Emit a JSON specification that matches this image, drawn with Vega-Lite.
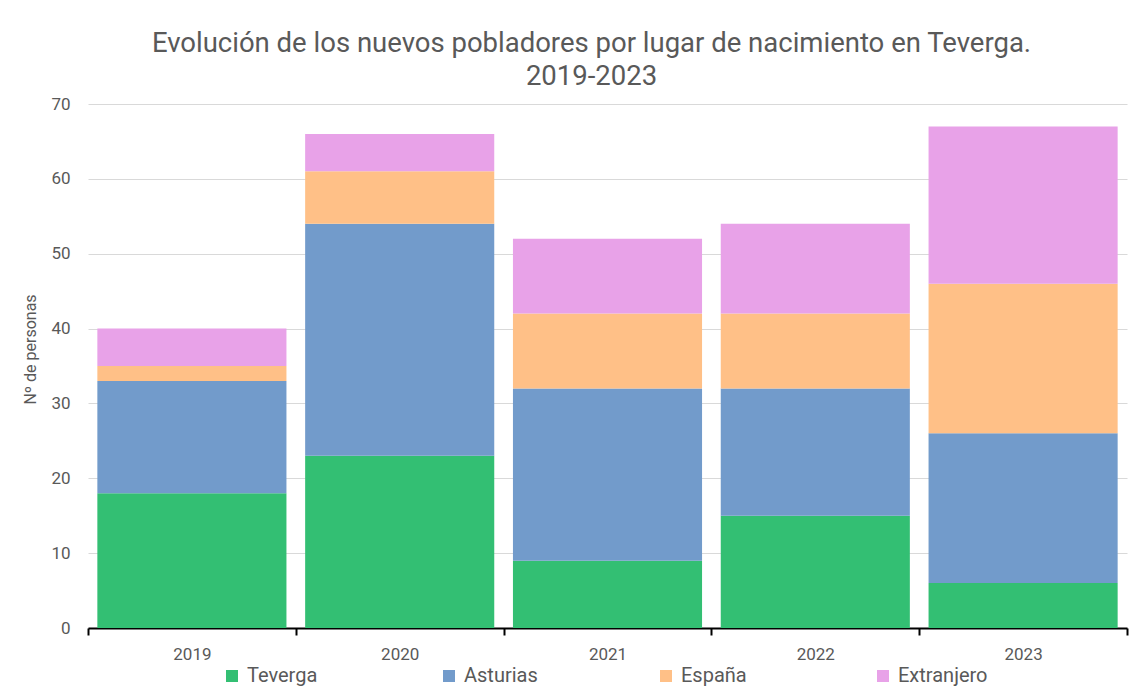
{
  "$schema": "https://vega.github.io/schema/vega-lite/v6.json",
  "width": 1039,
  "height": 524,
  "autosize": {"type": "none"},
  "padding": {"left": 88, "top": 104, "right": 5, "bottom": 60},
  "background": "white",
  "config": {"view": {"stroke": null}, "font": "Roboto"},
  "title": {
    "text": ["Evolución de los nuevos pobladores por lugar de nacimiento en Teverga.", "2019-2023"],
    "fontSize": 27.5,
    "fontWeight": "normal",
    "color": "#595959",
    "offset": 5,
    "dx": -16,
    "lineHeight": 33
  },
  "data": {
    "values": [
      {"anio": "2019", "lugar": "Teverga", "personas": 18},
      {"anio": "2019", "lugar": "Asturias", "personas": 15},
      {"anio": "2019", "lugar": "España", "personas": 2},
      {"anio": "2019", "lugar": "Extranjero", "personas": 5},
      {"anio": "2020", "lugar": "Teverga", "personas": 23},
      {"anio": "2020", "lugar": "Asturias", "personas": 31},
      {"anio": "2020", "lugar": "España", "personas": 7},
      {"anio": "2020", "lugar": "Extranjero", "personas": 5},
      {"anio": "2021", "lugar": "Teverga", "personas": 9},
      {"anio": "2021", "lugar": "Asturias", "personas": 23},
      {"anio": "2021", "lugar": "España", "personas": 10},
      {"anio": "2021", "lugar": "Extranjero", "personas": 10},
      {"anio": "2022", "lugar": "Teverga", "personas": 15},
      {"anio": "2022", "lugar": "Asturias", "personas": 17},
      {"anio": "2022", "lugar": "España", "personas": 10},
      {"anio": "2022", "lugar": "Extranjero", "personas": 12},
      {"anio": "2023", "lugar": "Teverga", "personas": 6},
      {"anio": "2023", "lugar": "Asturias", "personas": 20},
      {"anio": "2023", "lugar": "España", "personas": 20},
      {"anio": "2023", "lugar": "Extranjero", "personas": 21}
    ]
  },
  "transform": [
    {"calculate": "indexof(['Teverga','Asturias','España','Extranjero'], datum.lugar)", "as": "orden"}
  ],
  "mark": {"type": "bar", "width": {"band": 0.91}},
  "encoding": {
    "x": {
      "field": "anio",
      "type": "ordinal",
      "scale": {"paddingInner": 0, "paddingOuter": 0},
      "axis": {
        "title": null,
        "labelAngle": 0,
        "labelFontSize": 17,
        "labelColor": "#595959",
        "labelPadding": 11,
        "domainColor": "#000000",
        "domainWidth": 2,
        "tickColor": "#000000",
        "tickWidth": 2,
        "tickSize": 7,
        "tickBand": "extent",
        "grid": false
      }
    },
    "y": {
      "field": "personas",
      "type": "quantitative",
      "scale": {"domain": [0, 70]},
      "axis": {
        "title": "Nº de personas",
        "titleFontSize": 16,
        "titleFontWeight": "normal",
        "titleColor": "#595959",
        "titlePadding": 12,
        "titleY": 245,
        "titleAlign": "center",
        "values": [0, 10, 20, 30, 40, 50, 60, 70],
        "domain": false,
        "ticks": false,
        "labelPadding": 18,
        "labelFontSize": 17,
        "labelColor": "#595959",
        "gridColor": "#d9d9d9",
        "gridWidth": 1
      }
    },
    "color": {
      "field": "lugar",
      "type": "nominal",
      "sort": ["Teverga", "Asturias", "España", "Extranjero"],
      "scale": {
        "domain": ["Teverga", "Asturias", "España", "Extranjero"],
        "range": ["#33bf73", "#729bcb", "#ffc087", "#e8a2e8"]
      },
      "legend": {
        "title": null,
        "orient": "none",
        "legendX": 134,
        "legendY": 562,
        "direction": "horizontal",
        "symbolType": "square",
        "symbolSize": 144,
        "symbolStrokeWidth": 0,
        "symbolOpacity": 1,
        "labelFontSize": 20,
        "labelColor": "#595959",
        "labelOffset": 5,
        "gridAlign": "all",
        "columnPadding": 102
      }
    },
    "order": {"field": "orden", "type": "quantitative"}
  }
}
